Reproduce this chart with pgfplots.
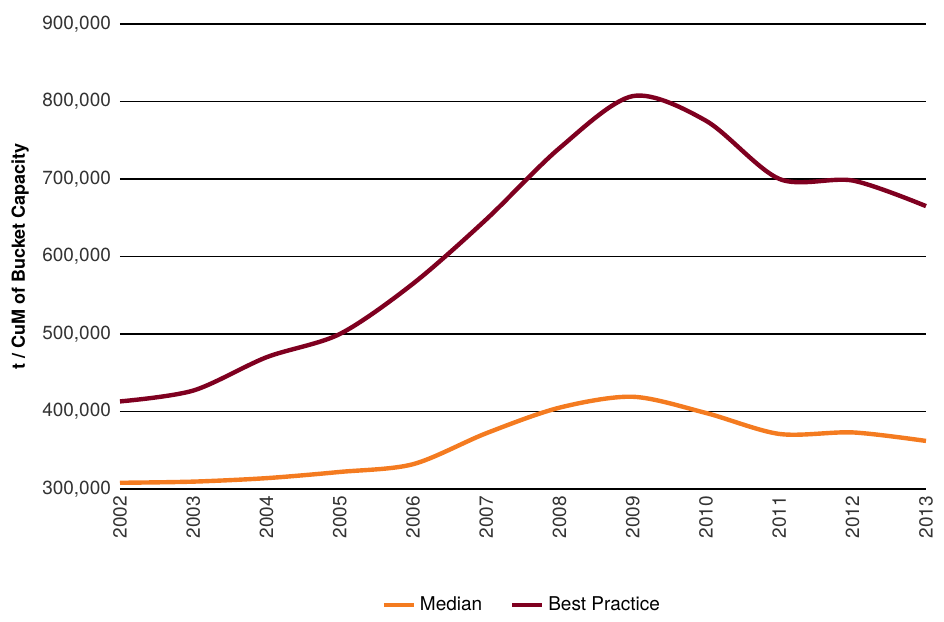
\documentclass[border=0pt]{standalone}
\usepackage{fontspec}
\setmainfont{TeX Gyre Heros}
\usepackage{pgfplots}
\pgfplotsset{compat=1.18}
\definecolor{medorange}{HTML}{F47B20}
\definecolor{bestred}{HTML}{7F0020}
\definecolor{txt}{HTML}{333333}

\pgfplotstableread{
year  median  best
2002  308000  413000
2003  309500  427000
2004  314000  470000
2005  322000  500000
2006  332000  565000
2007  372000  648000
2008  405000  740000
2009  419000  807000
2010  398000  775000
2011  371000  700000
2012  373000  698000
2013  362000  665000
}\data

\begin{document}
\begin{tikzpicture}
\path (-60pt,-63pt) rectangle (412pt,244.5pt);
\begin{axis}[
  at={(0,0)}, anchor=south west,
  scale only axis, width=403pt, height=232.5pt,
  xmin=2002, xmax=2013, ymin=300000, ymax=900000,
  xtick={2002,...,2013}, ytick={300000,400000,...,900000},
  axis line style={draw=none}, tick style={draw=none},
  ymajorgrids, grid style={black, line width=0.6pt},
  clip=false,
  font=\fontsize{9.5}{11}\selectfont,
  ticklabel style={text=txt},
  /pgf/number format/assume math mode=true,
  scaled y ticks=false,
  y tick label style={/pgf/number format/fixed, /pgf/number format/1000 sep={,}, xshift=-1pt},
  x tick label style={rotate=90, anchor=east, /pgf/number format/1000 sep={}},
  ylabel={\textbf{t / CuM of Bucket Capacity}},
  ylabel style={at={(axis description cs:-0.124,0.5)}, anchor=center, font=\fontsize{9}{11}\selectfont\bfseries},
  legend columns=2,
  legend style={at={(axis description cs:0.5,-0.249)}, anchor=center, draw=none, fill=none,
    /tikz/every even column/.append style={column sep=12pt}, font=\fontsize{9.5}{11}\selectfont},
  legend image code/.code={\draw[#1, line width=2pt] (0pt,0pt) -- (15pt,0pt);},
]
\addplot[medorange, line width=2.2pt, smooth, tension=0.5] table[x=year, y=median] {\data};
\addlegendentry{Median}
\addplot[bestred, line width=2.2pt, smooth, tension=0.5] table[x=year, y=best] {\data};
\addlegendentry{Best Practice}
\end{axis}
\end{tikzpicture}
\end{document}
